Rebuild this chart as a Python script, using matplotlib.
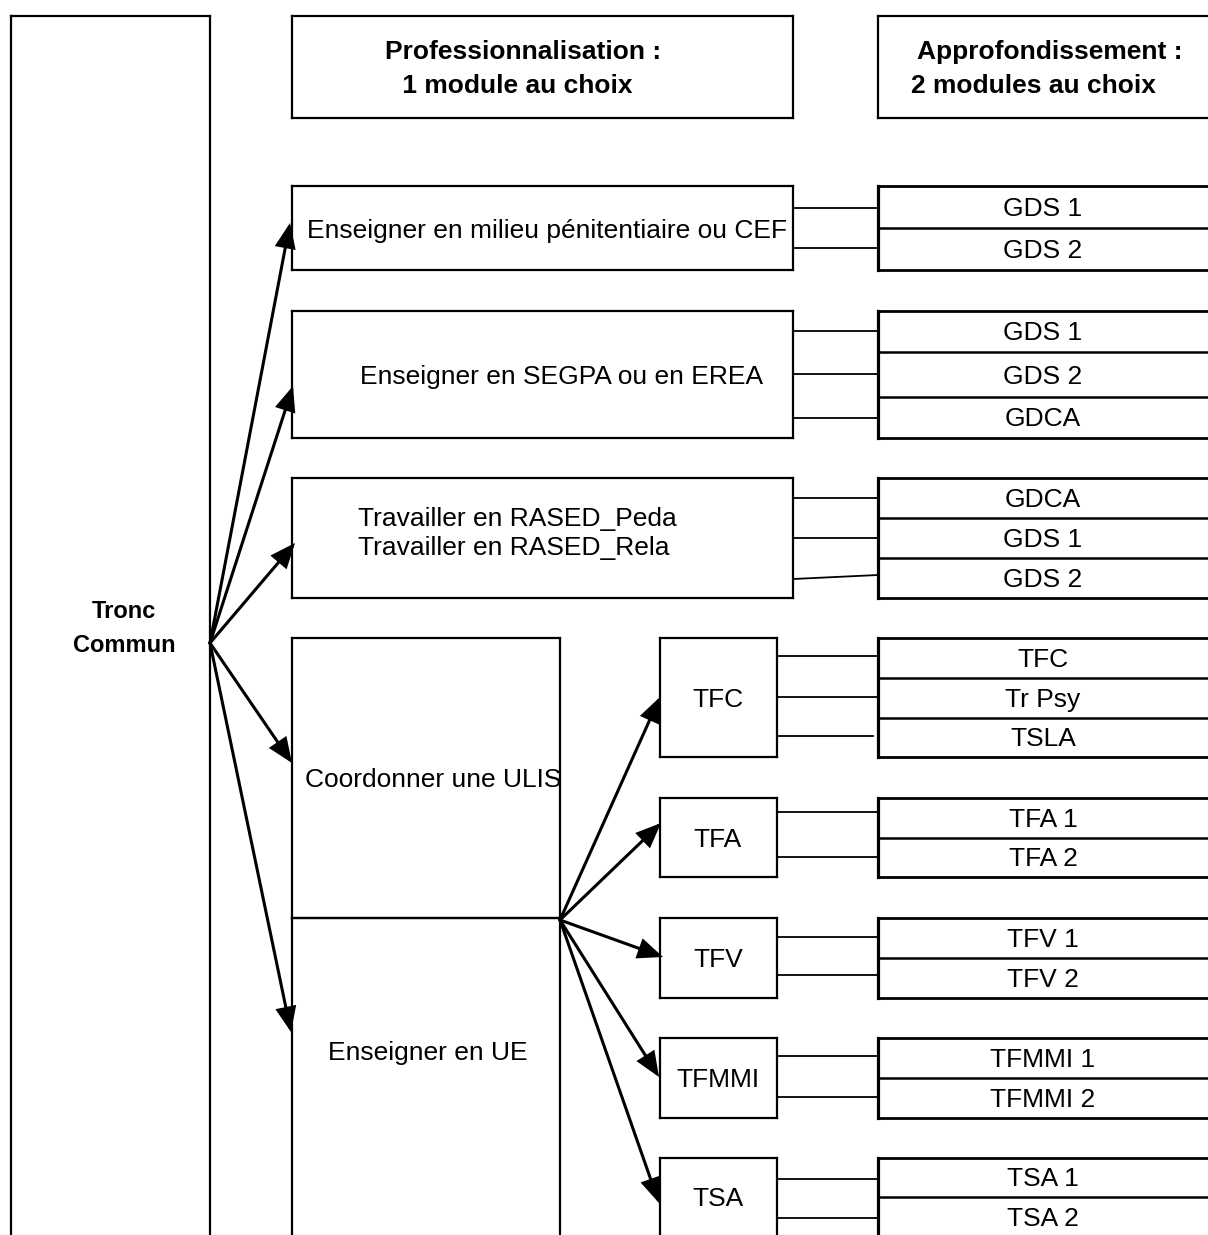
import matplotlib
matplotlib.use("Agg")
import matplotlib.pyplot as plt
from matplotlib.patches import FancyArrowPatch

plt.rcParams['font.family'] = ['Liberation Sans', 'DejaVu Sans']

# ---------------- content ----------------
root_label = ["Tronc", "Commun"]
header_labels = [["Professionnalisation :", " 1 module au choix"],
                 ["Approfondissement :", "2 modules au choix"]]
prof_labels = ["Enseigner en milieu pénitentiaire ou CEF",
               "Enseigner en SEGPA ou en EREA",
               ["Travailler en RASED_Peda", "Travailler en RASED_Rela"],
               "Coordonner une ULIS",
               "Enseigner en UE"]
sub_labels = ["TFC", "TFA", "TFV", "TFMMI", "TSA"]
option_groups = [["GDS 1", "GDS 2"],
                 ["GDS 1", "GDS 2", "GDCA"],
                 ["GDCA", "GDS 1", "GDS 2"],
                 ["TFC", "Tr Psy", "TSLA"],
                 ["TFA 1", "TFA 2"],
                 ["TFV 1", "TFV 2"],
                 ["TFMMI 1", "TFMMI 2"],
                 ["TSA 1", "TSA 2"]]

# ---------------- layout (pixels) ----------------
W, H = 1208, 1235
BOT = 1245  # beyond the bottom edge (open boxes)
LW = 1.6
FS = 19
DY = 2  # small vertical text offset

fig = plt.figure(figsize=(W / 100, H / 100), dpi=100)
ax = fig.add_axes([0, 0, 1, 1])
ax.set_xlim(0, W)
ax.set_ylim(H, 0)
ax.axis('off')


def seg(x0, y0, x1, y1, lw=LW):
    ax.plot([x0, x1], [y0, y1], color='black', lw=lw, solid_capstyle='projecting')


def rect(x0, y0, x1, y1, lw=LW, bottom=True):
    seg(x0, y0, x1, y0, lw)
    seg(x0, y0, x0, y1, lw)
    seg(x1, y0, x1, y1, lw)
    if bottom:
        seg(x0, y1, x1, y1, lw)


def txt(x, y, s, ha='center', bold=False, fs=FS):
    ax.text(x, y + DY, s, ha=ha, va='center', fontsize=fs,
            fontweight='bold' if bold else 'normal')


def arrow(p0, p1):
    a = FancyArrowPatch(p0, p1, arrowstyle='-|>,head_length=0.6,head_width=0.25',
                        mutation_scale=24, lw=2.2, color='black',
                        shrinkA=0, shrinkB=0, joinstyle='miter')
    ax.add_patch(a)


# root box
rect(11, 16, 210, BOT, bottom=False)
txt(124, 610, root_label[0], bold=True, fs=17)
txt(124, 644, root_label[1], bold=True, fs=17)

# headers
rect(292, 16, 793, 118)
rect(878, 16, 1220, 118)
hdr_x = [[523, 514], [1050, 1033]]
for lab, xs in zip(header_labels, hdr_x):
    txt(xs[0], 50, lab[0], bold=True)
    txt(xs[1], 84, lab[1], bold=True)

# professional boxes
prof_boxes = [(292, 186, 793, 270), (292, 311, 793, 438), (292, 478, 793, 598),
              (292, 638, 560, 918), (292, 918, 560, BOT)]
prof_text = [(547, 229, 'center'), (562, 375, 'center'), (358, 531, 'left'),
             (305, 778, 'left'), (428, 1051, 'center')]
for i, (b, lab, tp) in enumerate(zip(prof_boxes, prof_labels, prof_text)):
    rect(*b, bottom=(i != 4))
    if isinstance(lab, list):
        txt(tp[0], 517, lab[0], ha=tp[2])
        txt(tp[0], 546, lab[1], ha=tp[2])
    else:
        txt(tp[0], tp[1], lab, ha=tp[2])

# sub boxes
sub_boxes = [(660, 638, 777, 757), (660, 798, 777, 877), (660, 918, 777, 998),
             (660, 1038, 777, 1118), (660, 1158, 777, BOT)]
sub_text_y = [698, 838, 958, 1078, 1197]
for i, (b, lab, ty) in enumerate(zip(sub_boxes, sub_labels, sub_text_y)):
    rect(*b, bottom=(i != 4))
    txt(718, ty, lab)

# option groups
group_bounds = [[186, 228, 270], [311, 352, 397, 438], [478, 518, 558, 598],
                [638, 678, 718, 757], [798, 838, 877], [918, 958, 998],
                [1038, 1078, 1118], [1158, 1197, BOT]]
for labs, bounds in zip(option_groups, group_bounds):
    seg(878, bounds[0], 878, bounds[-1], lw=2.3)
    for j, yb in enumerate(bounds):
        if yb < H:
            seg(878, yb, 1220, yb, lw=2.0 if j in (0, len(bounds) - 1) else 1.8)
    for j, lab in enumerate(labs):
        yc = (bounds[j] + min(bounds[j + 1], 1237)) / 2
        txt(1043, yc, lab)

# connectors (x0, y0, x1, y1)
connectors = [(793, 208, 878, 208), (793, 248, 878, 248),
              (793, 331, 878, 331), (793, 374, 878, 374), (793, 418, 878, 418),
              (793, 498, 878, 498), (793, 538, 878, 538), (793, 579, 878, 575),
              (777, 656, 878, 656), (777, 697, 878, 697), (777, 736, 873, 736),
              (777, 812, 878, 812), (777, 857, 878, 857),
              (777, 937, 878, 937), (777, 975, 878, 975),
              (777, 1056, 878, 1056), (777, 1097, 878, 1097),
              (777, 1179, 878, 1179), (777, 1218, 878, 1218)]
for c in connectors:
    seg(*c, lw=1.3)

# arrows
root_src = (210, 643)
root_tips = [(290, 223), (293, 386), (295, 543), (292, 763), (291, 1032)]
for t in root_tips:
    arrow(root_src, t)
sub_src = (560, 920)
sub_tips = [(660, 697), (661, 823), (663, 957), (659, 1077), (659, 1203)]
for t in sub_tips:
    arrow(sub_src, t)

fig.savefig('out.png', dpi=100)
